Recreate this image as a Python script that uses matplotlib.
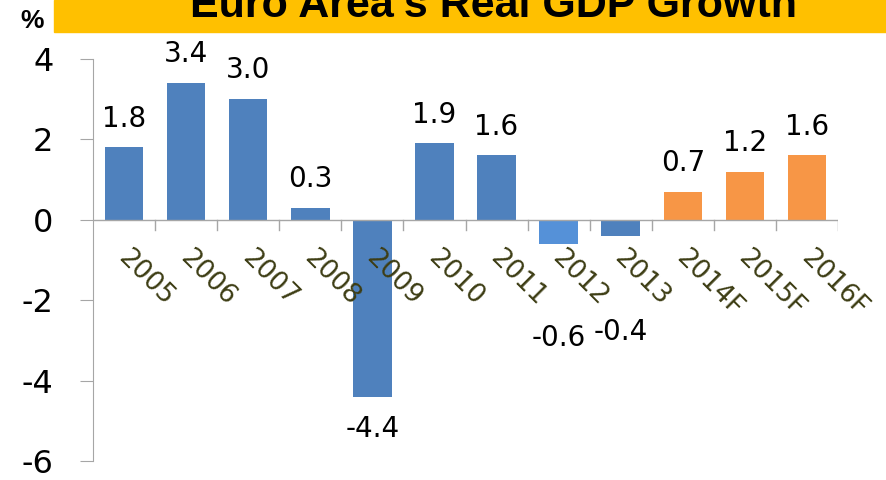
import numpy as np
import matplotlib.pyplot as plt
from matplotlib.patches import Rectangle

years = ['2005', '2006', '2007', '2008', '2009', '2010', '2011', '2012', '2013',
         '2014F', '2015F', '2016F']
growth = [1.8, 3.4, 3.0, 0.3, -4.4, 1.9, 1.6, -0.6, -0.4, 0.7, 1.2, 1.6]
labels = ['1.8', '3.4', '3.0', '0.3', '-4.4', '1.9', '1.6', '-0.6', '-0.4', '0.7', '1.2', '1.6']
# where the value labels sit (the two small negatives were pushed below the year labels)
label_y = [2.17, 3.77, 3.37, 0.67, -5.2, 2.27, 1.97, -2.94, -2.79, 1.07, 1.57, 1.97]
colors = ['#4f81bd'] * 7 + ['#5591d8', '#4f81bd'] + ['#f79646'] * 3

fig = plt.figure(figsize=(8.86, 4.8), dpi=100)
ax = fig.add_axes([93/886, 1 - 461/480, 745/886, 402/480])

x = np.arange(len(years))
ax.bar(x, growth, width=0.62, color=colors, zorder=2)
ax.set_xlim(-0.5, len(years) - 0.5)
ax.set_ylim(-6, 4)
ax.set_yticks([-6, -4, -2, 0, 2, 4])
ax.set_yticklabels(['-6', '-4', '-2', '0', '2', '4'])
ax.tick_params(axis='y', labelsize=23, length=9.5, color='#a6a6a6', pad=19)
for s in ['top', 'right', 'bottom']:
    ax.spines[s].set_visible(False)
ax.spines['left'].set_color('#a6a6a6')
ax.set_xticks([])

# zero axis with category separators
ax.axhline(0, color='#a6a6a6', lw=1, zorder=3)
for b in np.arange(0.5, len(years), 1.0):
    ax.plot([b, b], [0, -0.25], color='#a6a6a6', lw=1, zorder=3)

for xi, yr in zip(x, years):
    ax.text(xi + 0.11, -0.62, yr, rotation=-45, ha='left', va='top',
            rotation_mode='anchor', fontsize=19, color='#3d3d14', zorder=4)

for xi, ly, lab in zip(x, label_y, labels):
    va = 'bottom' if ly > 0 else 'center'
    ax.text(xi, ly, lab, ha='center', va=va, fontsize=20, zorder=4)

# title banner
fig.patches.append(Rectangle((54/886, 1 - 32/480), 1, 32/480, transform=fig.transFigure,
                             color='#ffc000', zorder=0))
fig.text(494/886, 1 - 17/480, "Euro Area's Real GDP Growth", ha='center', va='baseline',
         fontsize=31, fontweight='bold', family='Liberation Sans')
fig.text(20/886, 1 - 28/480, '%', fontsize=19, fontweight='bold', family='Liberation Sans')

fig.savefig('out.png', dpi=100)
